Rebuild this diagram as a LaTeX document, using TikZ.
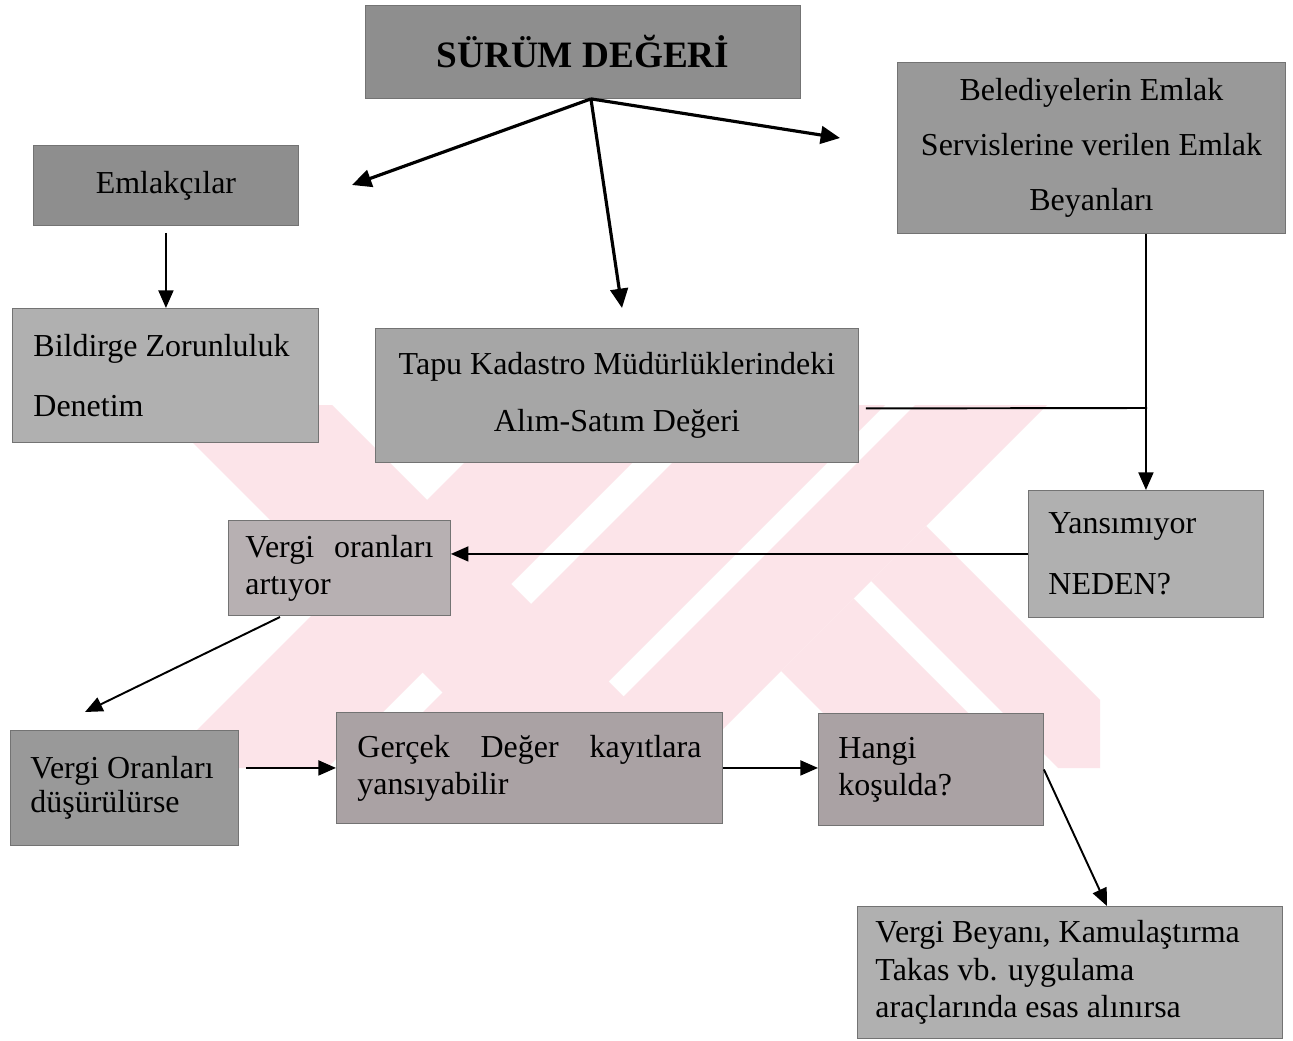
\documentclass[tikz,border=0pt]{standalone}
\usepackage{fontspec}
\setmainfont{Liberation Serif}
\usetikzlibrary{arrows.meta,calc}
% lengths given in drawing units (1 unit = 0.02cm)
\newcommand\du[1]{#1*0.02cm}
\definecolor{wmpink}{RGB}{252,228,233}
\definecolor{gdark}{RGB}{142,142,142}
\definecolor{gmid}{RGB}{166,166,166}
\definecolor{glight}{RGB}{176,176,176}
\definecolor{gpink}{RGB}{170,162,164}
\begin{document}
\begin{tikzpicture}[x=0.02cm,y=-0.02cm,
  box/.style={rectangle,anchor=north west,draw=black!55,line width=0.5pt,
    inner ysep=0pt,text=black},
  body/.style={font=\fontsize{18.2}{#1}\selectfont},
  arr/.style={-{Triangle[length=10pt,width=8.5pt]},line width=1.1pt},
  arrb/.style={-{Triangle[length=11pt,width=10pt]},line width=1.8pt},
  link/.style={line width=1.1pt}]
\useasboundingbox[fill=white] (0,0) rectangle (1293,1040);

% faint background emblem
\begin{scope}
  \clip (150,405) rectangle (1100,768);
  \fill[wmpink] (155,405) -- (332,405) -- (695,768) -- (518,768) -- cycle;
  \fill[wmpink] (522,405) -- (690,405) -- (327,768) -- (159,768) -- cycle;
  \fill[wmpink] (730,405) -- (885,405) -- (522,768) -- (367,768) -- cycle;
  \fill[wmpink] (915,405) -- (1047,405) -- (684,768) -- (552,768) -- cycle;
  \fill[wmpink] (781,671) -- (853.5,598.5) -- (1023,768) -- (878,768) -- cycle;
  \fill[wmpink] (871,581) -- (926,526) -- (1168,768) -- (1058,768) -- cycle;
\end{scope}

% boxes
\node[box,fill=gdark,minimum width=\du{435},minimum height=\du{93},
  font=\fontsize{21.2}{25}\selectfont\bfseries,align=center]
  (T) at (365,5) {SÜRÜM DEĞERİ};
\node[box,fill=gdark,minimum width=\du{265},minimum height=\du{80},
  body=22,align=center] (E) at (33,145) {Emlakçılar};
\node[box,fill=glight,minimum width=\du{306},minimum height=\du{134},
  body=34,text width=\du{264},inner xsep=\du{21},align=flush left]
  (B) at (12,308) {Bildirge Zorunluluk\\Denetim};
\node[box,fill=gmid,minimum width=\du{483},minimum height=\du{134},
  body=32.4,align=center]
  (K) at (375,328) {Tapu Kadastro Müdürlüklerindeki\\Alım-Satım Değeri};
\node[box,fill=gdark!90!white,minimum width=\du{388},minimum height=\du{171},
  body=31.2,align=center]
  (D) at (897,62) {Belediyelerin Emlak\\Servislerine verilen Emlak\\Beyanları};
\node[box,fill=glight,minimum width=\du{235},minimum height=\du{127},
  body=34.6,text width=\du{195},inner xsep=\du{20},align=flush left]
  (Y) at (1028,490) {Yansımıyor\\NEDEN?};
\node[box,fill=gpink!85!white,minimum width=\du{222},minimum height=\du{95},
  body=21,text width=\du{188},inner xsep=\du{15},align=left]
  (V1) at (228,520) {Vergi\hfill oranları\\artıyor};
\node[box,fill=gmid!92!black,minimum width=\du{228},minimum height=\du{115},
  body=19.5,text width=\du{188},inner xsep=\du{20},align=flush left]
  (V2) at (10,730) {Vergi Oranları\\düşürülürse};
\node[box,fill=gpink,minimum width=\du{386},minimum height=\du{111},
  body=21,text width=\du{344},inner xsep=\du{21},align=left]
  (G) at (336,712) {Gerçek\hfill Değer\hfill kayıtlara\\yansıyabilir};
\node[box,fill=gpink,minimum width=\du{225},minimum height=\du{112},
  body=21,text width=\du{185},inner xsep=\du{20},align=flush left]
  (H) at (818,713) {Hangi\\koşulda?};
\node[box,fill=glight,minimum width=\du{425},minimum height=\du{132},
  body=21.3,text width=\du{389},inner xsep=\du{18},align=flush left]
  (S) at (857,906) {Vergi Beyanı, Kamulaştırma\\Takas vb. uygulama\\araçlarında esas alınırsa};

% free ends and junctions of the connectors
\coordinate (src) at ($(T.south)+(8,0)$);
\coordinate (toE) at (352,185);
\coordinate (toK) at (622,308);
\coordinate (toD) at (840,138);
\coordinate (join) at (1147,408);
\coordinate (v1out) at (280,617);
\coordinate (toV2) at (85,712);
\coordinate (toS) at (1107,906);

% connectors
\draw[arrb] (src) -- (toE);
\draw[arrb] (src) -- (toK);
\draw[arrb] (src) -- (toD);
\draw[arr] ($(E.south)+(0,7)$) -- (E.south |- B.north);
\draw[arr] (Y.north |- D.south) -- (Y.north);
\draw[link] ($(K.east)+(7,13)$) -- (join);
\draw[arr] (Y.west) -- (V1.east |- Y.west);
\draw[arr] (v1out) -- (toV2);
\draw[arr] ($(V2.east |- G.west)+(7,0)$) -- (G.west);
\draw[arr] (G.east) -- (H.west |- G.east);
\draw[arr] (H.east) -- (toS);
\end{tikzpicture}
\end{document}
